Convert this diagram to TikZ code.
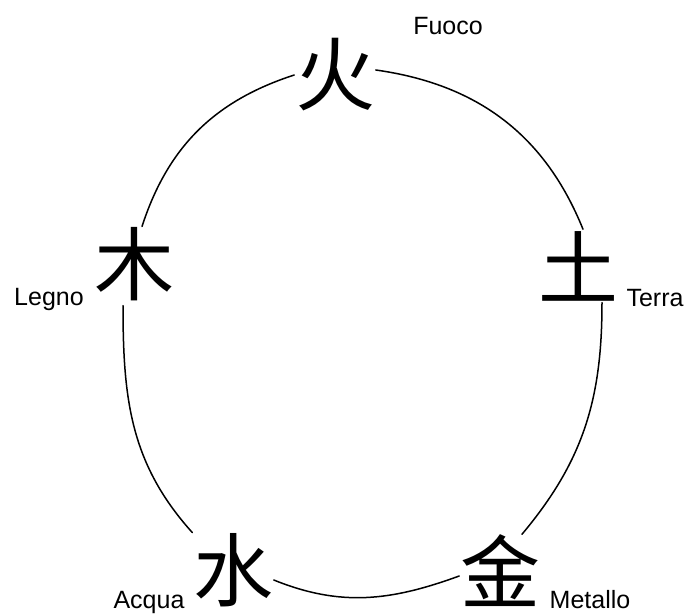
\documentclass[tikz,border=0pt]{standalone}
\usepackage{fontspec}
\setmainfont{Liberation Sans}
\newfontfamily\cjk{Noto Sans CJK SC}
\begin{document}
\begin{tikzpicture}[x=1pt,y=1pt,line join=round, line cap=round, line width=1.5pt,
	elem/.style={inner sep=0pt, minimum size=72pt, font=\cjk\fontsize{80}{80}\selectfont},
	lbl/.style={anchor=base, inner sep=0pt, font=\fontsize{25}{25}\selectfont}]
				\useasboundingbox (0,0) rectangle (689,615);
				% the five elements
				\node[elem] (huo) at (335,540) {火};
				\node[elem] (mu) at (134,351) {木};
				\node[elem] (tu) at (578,349) {土};
				\node[elem] (shui) at (233,45) {水};
				\node[elem] (jin) at (500,44) {金};
				% names
				\node[lbl] (fuoco) at (448,580) {Fuoco};
				\node[lbl] (legno) at (49,309) {Legno};
				\node[lbl] (terra) at (655,308) {Terra};
				\node[lbl] (acqua) at (149,6) {Acqua};
				\node[lbl] (metallo) at (590,6) {Metallo};
				% the cycle
				\draw (huo.west) to[out=198, in=72] ([xshift=8pt]mu.north);
				\draw ([yshift=5pt]huo.east) to[out=-8, in=112] ([xshift=5pt]tu.north);
				\draw ([xshift=-11pt,yshift=-4pt]mu.south) to[out=-90, in=132] (shui.north west);
				\draw ([xshift=24pt]tu.south) to[out=-90, in=50] ([xshift=22pt]jin.north);
				\draw ([yshift=-10pt]shui.east) to[out=-22, in=200] ([yshift=-5pt]jin.west);
			\end{tikzpicture}
\end{document}
